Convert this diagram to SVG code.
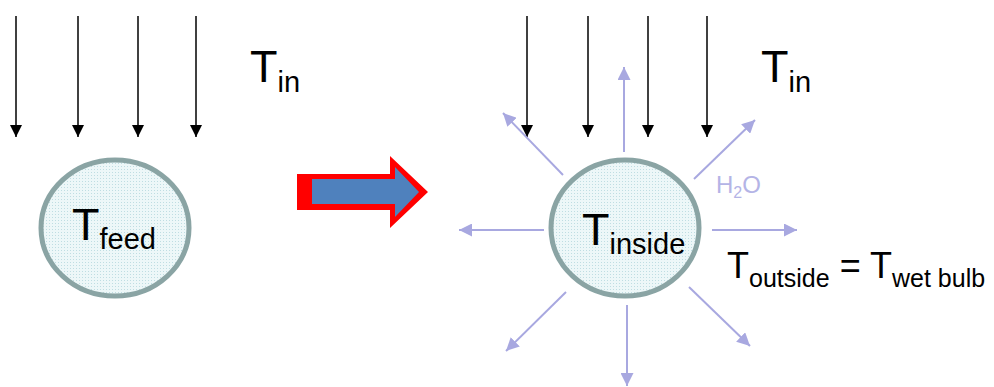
<svg xmlns="http://www.w3.org/2000/svg" width="994" height="387" viewBox="0 0 994 387">
  <defs>
    <marker id="blackHead" markerWidth="12" markerHeight="12" viewBox="0 0 12 12" refX="12" refY="6" orient="auto" markerUnits="userSpaceOnUse">
      <path d="M0,0 L12,6 L0,12 Z" fill="#000"/>
    </marker>
    <marker id="vaporHead" markerWidth="13" markerHeight="13" viewBox="0 0 13 13" refX="13" refY="6.5" orient="auto" markerUnits="userSpaceOnUse">
      <path d="M0,0 L13,6.5 L0,13 Z" fill="#A8A8E0"/>
    </marker>
    <pattern id="dots" width="3" height="3" patternUnits="userSpaceOnUse">
      <rect width="3" height="3" fill="#EDF7F8"/>
      <rect x="1" y="1" width="1" height="1" fill="#BFDDE2"/>
    </pattern>
  </defs>
  <style>
    .heat { stroke: #000; stroke-width: 1.5; fill: none; marker-end: url(#blackHead); }
    .vapor { stroke: #A8A8E0; stroke-width: 2; fill: none; marker-end: url(#vaporHead); }
    .drop { fill: url(#dots); stroke: #8AA4A4; stroke-width: 5; }
    .lbl { font-family: "Liberation Sans", Arial, sans-serif; fill: #000; }
  </style>

  <rect width="994" height="387" fill="#fff"/>

  <!-- connectors: incoming heat, outgoing vapour, process arrow -->
  <g id="connectors">
    <line class="heat" x1="16" y1="16" x2="16" y2="137"/>
    <line class="heat" x1="78" y1="16" x2="78" y2="137"/>
    <line class="heat" x1="138" y1="16" x2="138" y2="137"/>
    <line class="heat" x1="196" y1="16" x2="196" y2="137"/>

    <line class="heat" x1="527" y1="16" x2="527" y2="137"/>
    <line class="heat" x1="588" y1="16" x2="588" y2="137"/>
    <line class="heat" x1="648" y1="16" x2="648" y2="137"/>
    <line class="heat" x1="707" y1="16" x2="707" y2="137"/>

    <line class="vapor" x1="624" y1="152" x2="624" y2="67"/>
    <line class="vapor" x1="563" y1="175" x2="503" y2="113"/>
    <line class="vapor" x1="694" y1="179" x2="755" y2="120"/>
    <line class="vapor" x1="544" y1="230" x2="459" y2="230"/>
    <line class="vapor" x1="712" y1="230" x2="797" y2="230"/>
    <line class="vapor" x1="566" y1="292" x2="506" y2="351"/>
    <line class="vapor" x1="627" y1="305" x2="627" y2="386"/>
    <line class="vapor" x1="689" y1="287" x2="750" y2="346"/>

    <g id="process-arrow">
      <polygon points="297,174 390,174 390,156 428,192 390,228 390,210 297,210" fill="#FF0000"/>
      <polygon points="312,179 395,179 395,167 419,192 395,217 395,204 312,204" fill="#4F81BD"/>
    </g>
  </g>

  <g id="feed-drop">
    <ellipse class="drop" cx="115" cy="228" rx="74" ry="68"/>
    <text class="lbl" x="72" y="240" font-size="45">T<tspan font-size="29" dy="9">feed</tspan></text>
  </g>

  <g id="drying-drop">
    <ellipse class="drop" cx="625" cy="228" rx="74" ry="68"/>
    <text class="lbl" x="582" y="245" font-size="45">T<tspan font-size="29" dy="9">inside</tspan></text>
  </g>

  <g id="inlet-left">
    <text class="lbl" x="250" y="82" font-size="45">T<tspan font-size="29" dy="10">in</tspan></text>
  </g>

  <g id="inlet-right">
    <text class="lbl" x="761" y="82" font-size="45">T<tspan font-size="29" dy="10">in</tspan></text>
  </g>

  <g id="water-label">
    <text x="716" y="193" font-family="Liberation Sans, Arial, sans-serif" font-size="24" fill="#B4B4E6">H<tspan font-size="16" dy="5">2</tspan><tspan dy="-5">O</tspan></text>
  </g>

  <g id="wet-bulb">
    <text class="lbl" x="727" y="278" font-size="36">T<tspan font-size="25" dy="9">outside</tspan><tspan dy="-9"> = T</tspan><tspan font-size="25" dy="9">wet bulb</tspan></text>
  </g>
</svg>
